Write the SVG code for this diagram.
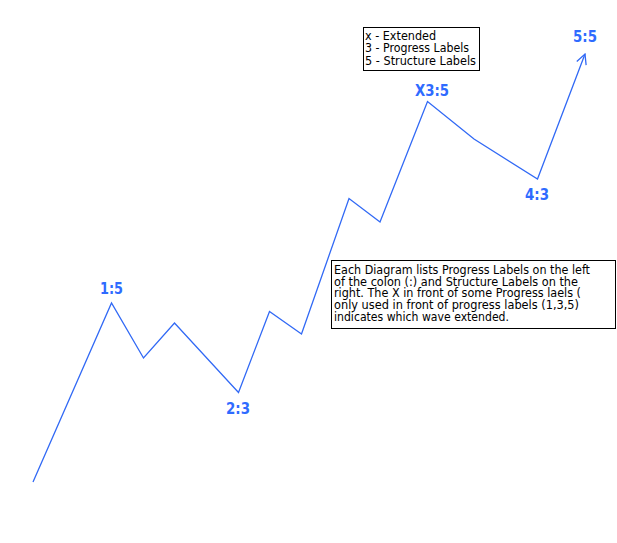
<svg xmlns="http://www.w3.org/2000/svg" width="617" height="543" viewBox="0 0 617 543">
<style>
.wave{fill:none;stroke:#3169f5;stroke-width:1.3;stroke-linejoin:miter}
.lbl{font-family:"DejaVu Sans",Verdana,sans-serif;font-size:15px;font-weight:bold;fill:#2f6bff;text-anchor:middle}
.box{fill:#ffffff;stroke:#000000;stroke-width:1}
.note{font-family:"DejaVu Sans",Tahoma,sans-serif;font-size:12px;fill:#000000}
</style>
<defs>
<marker id="arr" viewBox="0 0 12 12" refX="11" refY="6" markerWidth="12" markerHeight="12" markerUnits="userSpaceOnUse" orient="auto">
<path d="M1,1 L11,6 L1,11" fill="none" stroke="#3169f5" stroke-width="1.3"/>
</marker>
</defs>
<rect width="617" height="543" fill="#ffffff"/>
<g id="connectors">
<polyline class="wave" marker-end="url(#arr)" points="33,482 111.5,303 143.5,358 174.5,323 238.5,392.5 269.5,311.5 301.5,334 349,198.5 380,222 427.5,101.5 474,139 537.5,179 585,54"/>
</g>
<g id="label-1-5"><text class="lbl" x="111.5" y="294" textLength="23" lengthAdjust="spacingAndGlyphs">1:5</text></g>
<g id="label-2-3"><text class="lbl" x="238" y="414" textLength="24" lengthAdjust="spacingAndGlyphs">2:3</text></g>
<g id="label-x3-5"><text class="lbl" x="432" y="96" textLength="34" lengthAdjust="spacingAndGlyphs">X3:5</text></g>
<g id="label-4-3"><text class="lbl" x="537" y="200" textLength="24" lengthAdjust="spacingAndGlyphs">4:3</text></g>
<g id="label-5-5"><text class="lbl" x="585" y="41.5" textLength="24" lengthAdjust="spacingAndGlyphs">5:5</text></g>
<g id="legend">
<rect class="box" x="363.5" y="27.5" width="116" height="43"/>
<text class="note" x="365" y="40" textLength="71" lengthAdjust="spacingAndGlyphs">x - Extended</text>
<text class="note" x="365" y="52.3" textLength="104" lengthAdjust="spacingAndGlyphs">3 - Progress Labels</text>
<text class="note" x="365" y="64.6" textLength="111" lengthAdjust="spacingAndGlyphs">5 - Structure Labels</text>
</g>
<g id="explanation">
<rect class="box" x="331.5" y="260.5" width="284" height="68"/>
<text class="note" x="334" y="274" textLength="256" lengthAdjust="spacingAndGlyphs">Each Diagram lists Progress Labels on the left</text>
<text class="note" x="334" y="285.7" textLength="244" lengthAdjust="spacingAndGlyphs">of the colon (:) and Structure Labels on the</text>
<text class="note" x="334" y="297.4" textLength="247" lengthAdjust="spacingAndGlyphs">right. The X in front of some Progress laels (</text>
<text class="note" x="334" y="309.1" textLength="245" lengthAdjust="spacingAndGlyphs">only used in front of progress labels (1,3,5)</text>
<text class="note" x="334" y="320.8" textLength="175" lengthAdjust="spacingAndGlyphs">indicates which wave extended.</text>
</g>
</svg>
